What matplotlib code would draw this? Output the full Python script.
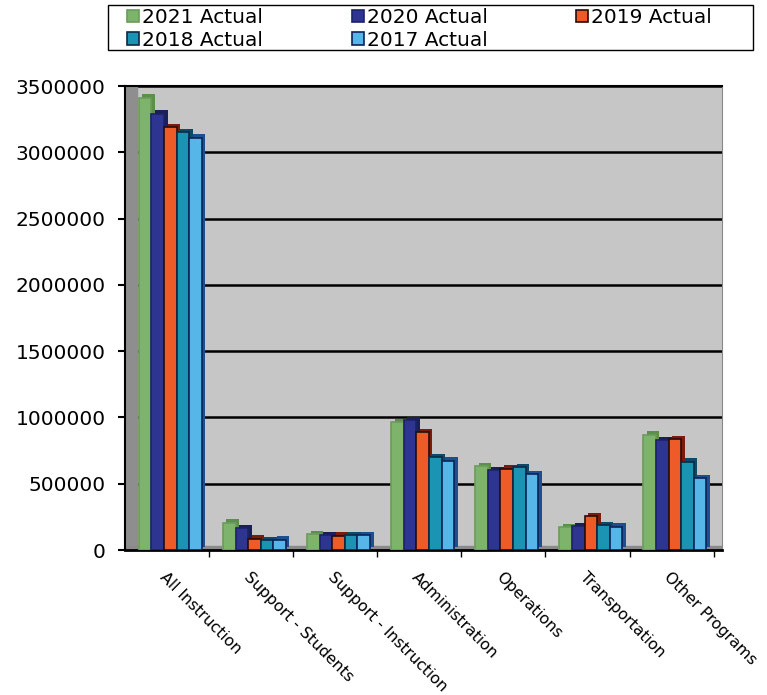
import numpy as np
import matplotlib.pyplot as plt
import matplotlib.patheffects as pe
from matplotlib.patches import Patch, Rectangle

categories = ['All Instruction', 'Support - Students', 'Support - Instruction',
              'Administration', 'Operations', 'Transportation', 'Other Programs']
series_names = ['2021 Actual', '2020 Actual', '2019 Actual', '2018 Actual', '2017 Actual']

actual_2021 = [3410000, 205000, 118000, 965000, 633000, 170000, 871000]
actual_2020 = [3290000, 165000, 110000, 977000, 600000, 180000, 826000]
actual_2019 = [3190000, 85000, 108000, 890000, 612000, 255000, 834000]
actual_2018 = [3150000, 72000, 110000, 700000, 625000, 185000, 667000]
actual_2017 = [3110000, 78000, 112000, 675000, 570000, 176000, 542000]

yticks = [0, 500000, 1000000, 1500000, 2000000, 2500000, 3000000, 3500000]

colors = ['#7db36b', '#2e3590', '#ee5a28', '#1b93b3', '#57b6e8']
edges = ['#6a9d5a', '#1c2268', '#2a0c08', '#0c2a48', '#0c2458']
sides = ['#5c8f4c', '#1a1f5a', '#7a1c0c', '#0d4a66', '#1d4f90']

fig = plt.figure(figsize=(7.67, 6.95), dpi=100)
ax = fig.add_axes([125 / 767, 1 - 550 / 695, 597 / 767, 464 / 695])
ax.set_facecolor('#c6c6c6')

data = [actual_2021, actual_2020, actual_2019, actual_2018, actual_2017]
index = np.arange(len(categories))
bar_width = 0.15

for j in range(5):
    rects = ax.bar(index + (j - 2) * bar_width + 0.04, data[j], bar_width,
                   color=colors[j], edgecolor=edges[j], linewidth=1.2, zorder=3)
    for r in rects:
        r.set_path_effects([pe.SimplePatchShadow(offset=(2.5, 2.5), shadow_rgbFace=sides[j], alpha=1.0),
                            pe.Normal()])

# side wall and floor
ax.axvspan(-0.5, -0.36, color='#8e8e8e', zorder=1)
ax.axhspan(0, 30000, color='#8a8a8a', zorder=1)

ax.set_xlim(-0.5, 6.6)
ax.set_ylim(0, 3500000)
ax.set_yticks(yticks)
ax.set_yticklabels([str(v) for v in yticks], fontsize=14.5)
ax.tick_params(axis='y', length=5, width=1.5, pad=9)

ax.set_xticks(index)
ax.set_xticklabels(categories, fontsize=11.3, rotation=-45, ha='left', va='top',
                   rotation_mode='anchor')
ax.tick_params(axis='x', which='major', length=0, pad=14)
ax.set_xticks(index + 0.5, minor=True)
ax.tick_params(axis='x', which='minor', length=5, width=1)

ax.yaxis.grid(True, color='black', linewidth=1.8, zorder=0)
ax.set_axisbelow(True)

ax.spines['left'].set_linewidth(1.5)
ax.spines['bottom'].set_linewidth(2)
ax.spines['top'].set_linewidth(1.5)
ax.spines['right'].set_color('#888888')

# legend, filled row by row
order = [0, 3, 1, 4, 2]
proxies = [Patch(facecolor=colors[i], edgecolor=edges[i], linewidth=1.2) for i in range(5)]
leg = fig.legend([proxies[i] for i in order], [series_names[i] for i in order],
                 ncol=3, loc='upper left', bbox_to_anchor=(125 / 767, 1 - 6 / 695),
                 fontsize=14.5, handlelength=0.6, handleheight=0.6, handletextpad=0.15,
                 labelspacing=0.18, borderpad=0.1, columnspacing=4.4,
                 frameon=False, borderaxespad=0)
fig.patches.append(Rectangle((108 / 767, 1 - 50 / 695), 645 / 767, 45 / 695,
                             transform=fig.transFigure, fill=False,
                             edgecolor='black', linewidth=1))

fig.savefig('out.png', dpi=100)
